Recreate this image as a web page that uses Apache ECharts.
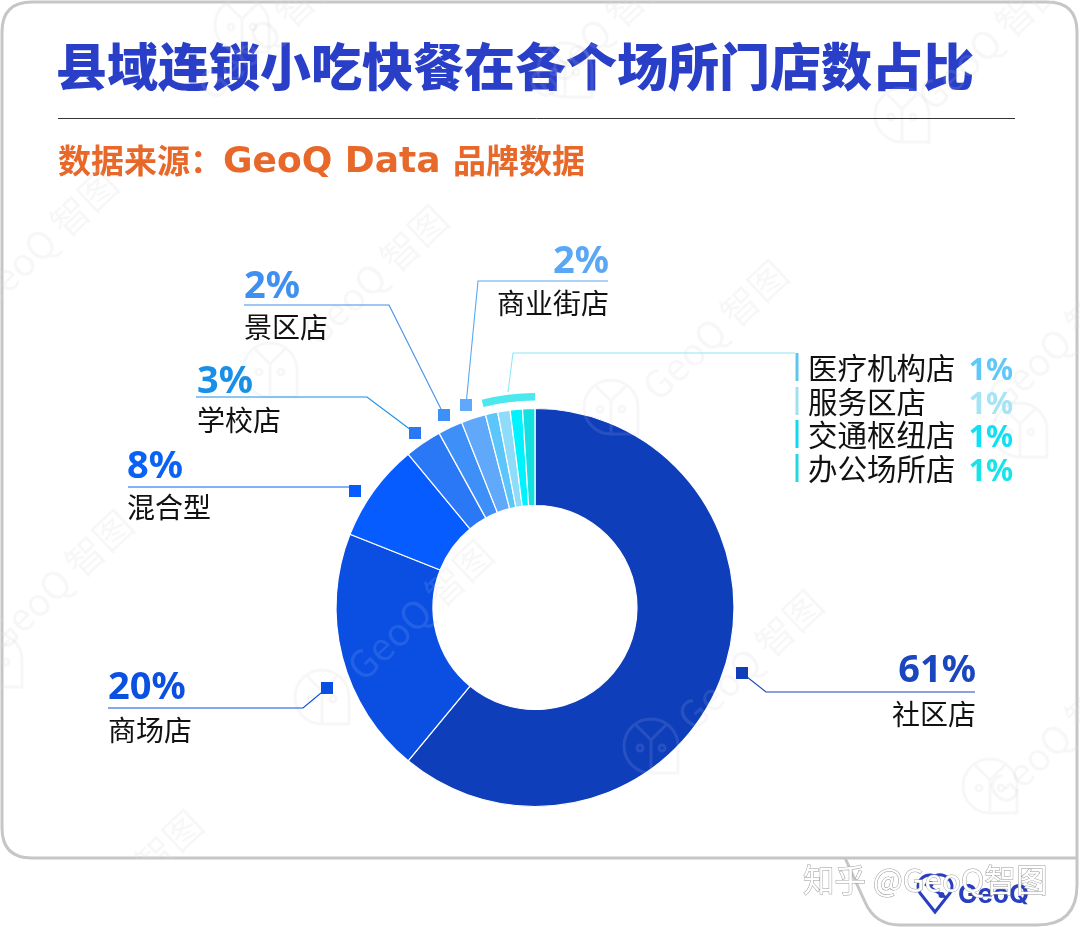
<!DOCTYPE html>
<html>
<head>
<meta charset="utf-8">
<style>
  html, body { margin: 0; padding: 0; background: #fff; }
  #main { width: 1080px; height: 927px; }
</style>
<script src="https://cdn.jsdelivr.net/npm/echarts@6/dist/echarts.min.js"></script>
</head>
<body>
<div id="main"></div>
<script>
const categories = ["社区店", "商场店", "混合型", "学校店", "景区店", "商业街店", "医疗机构店", "服务区店", "交通枢纽店", "办公场所店"];
const values = [61, 20, 8, 3, 2, 2, 1, 1, 1, 1];
const sliceColors = ["#0f3ebb", "#0a4ee2", "#075cff", "#2a78f6", "#3f8ff8", "#60a8fa", "#5cc6fb", "#8edcf9", "#00f2fe", "#14e0e0"];
const textColors = ["#1a46c0", "#0b50e0", "#0a62f5", "#1a8fe8", "#3f90f0", "#5aa8f5", "#60c8f8", "#a4e4f4", "#10e0f4", "#18e4e8"];

const FONT = '"Noto Sans CJK SC", "Noto Sans", sans-serif';
const PCT_FONT = '"Noto Sans", "Open Sans", sans-serif';
const CENTER = [535, 607.5];

// callouts with a leader line, index follows categories
const callouts = [
  { i: 0, sq: [742, 673], line: [[742, 673], [766, 692], [975, 692]], align: "right", x: 976, pctY: 671, nameY: 714 },
  { i: 1, sq: [327, 688], line: [[327, 688], [303, 708], [108, 708]], align: "left", x: 108, pctY: 688, nameY: 730 },
  { i: 2, sq: [355, 491], line: [[355, 487], [128, 487]], align: "left", x: 127, pctY: 467, nameY: 507 },
  { i: 3, sq: [415, 433], line: [[415, 433], [367, 397], [196, 397]], align: "left", x: 197, pctY: 382, nameY: 420 },
  { i: 4, sq: [444, 415], line: [[444, 415], [389, 305], [244, 305]], align: "left", x: 244, pctY: 287, nameY: 327 },
  { i: 5, sq: [466, 405], line: [[466, 405], [478, 281], [608, 281]], align: "right", x: 609, pctY: 262, nameY: 303 }
];
// the four 1% shops listed on the right
const listRows = [
  { i: 6, y: 368, bar: "#60c4f0" },
  { i: 7, y: 402, bar: "#a0e0f0" },
  { i: 8, y: 435, bar: "#10d8f0" },
  { i: 9, y: 469, bar: "#20d8e0" }
];
const markPos = [[45, 240], [375, 275], [715, 330], [60, 580], [420, 610], [750, 660], [1060, 735], [270, 30], [600, 30], [130, 880], [1060, 340], [990, 40]];
const owlPos = [[270, 370], [611, 407], [902, 115], [322, 697], [651, 746], [990, 786], [242, 25], [565, 70], [1020, 430], [-5, 660]];

const OWL = "M-27,0 A27,27 0 1 1 27,0 L27,27 L0,27 A27,27 0 0 1 -27,0 Z M-15,-21 L0,-6 L15,-21 M0,-6 L0,27 M-14,2 a3,3 0 1 0 6,0 a3,3 0 1 0 -6,0 M8,2 a3,3 0 1 0 6,0 a3,3 0 1 0 -6,0";
const FRAME = "M32,2 L1047,2 Q1077,2 1077,32 L1077,885 Q1077,925 1037,925 L900,925 Q875,925 865,902 L845,858 L32,858 Q2,858 2,828 L2,32 Q2,2 32,2 Z M845,858 L1077,858";
const PIN = "M935,912 L920,893 A10,10 0 0 1 918,886 A12,12 0 0 1 935,876 A12,12 0 0 1 952,886 A10,10 0 0 1 950,893 Z M925,884 L945,897 M929,884 a1.5,1.5 0 1 0 3,0 a1.5,1.5 0 1 0 -3,0 M940,895 a1.5,1.5 0 1 0 3,0 a1.5,1.5 0 1 0 -3,0";
echarts.graphic.registerShape("owl", echarts.graphic.extendPath(OWL, {}));
echarts.graphic.registerShape("frame", echarts.graphic.extendPath(FRAME, {}));
echarts.graphic.registerShape("pin", echarts.graphic.extendPath(PIN, {}));

function textEl(text, x, y, size, color, align, weight, family) {
  return {
    type: "text", x: x, y: y, z: 20,
    style: {
      text: text, fill: color, align: align || "left", verticalAlign: "middle",
      font: (weight || "normal") + " " + size + "px " + (family || FONT)
    }
  };
}

function polyEl(points, color, width, z) {
  return {
    type: "polyline", z: z || 15, silent: true,
    shape: { points: points },
    style: { stroke: color, lineWidth: width || 1.1, fill: null }
  };
}

const graphics = [];

// watermark: grey under the pie, white over it
[["rgba(0,0,0,0.035)", 0], ["rgba(255,255,255,0.10)", 10]].forEach(function (w) {
  markPos.forEach(function (p) {
    graphics.push({
      type: "text", x: p[0], y: p[1], rotation: Math.PI * 0.24, z: w[1], silent: true,
      style: { text: "GeoQ 智图", fill: w[0], align: "center", verticalAlign: "middle", font: "38px " + FONT }
    });
  });
  owlPos.forEach(function (p) {
    graphics.push({
      type: "owl", x: p[0], y: p[1], z: w[1], silent: true,
      style: { stroke: w[0], lineWidth: 3, fill: null }
    });
  });
});

// the watermark stops at the card edge
graphics.push({
  type: "rect", z: 1, silent: true,
  shape: { x: 0, y: 859, width: 1080, height: 68 },
  style: { fill: "#fff" }
});

// card outline with the tab in the lower right corner
graphics.push({
  type: "frame", z: 5, silent: true,
  style: { stroke: "#c6c6c6", lineWidth: 3, fill: null }
});

// title rule
graphics.push(polyEl([[58, 118.5], [1015, 118.5]], "#33333a", 1));

callouts.forEach(function (c) {
  const color = textColors[c.i];
  graphics.push(polyEl(c.line, color));
  graphics.push({
    type: "rect", z: 16, silent: true,
    shape: { x: c.sq[0] - 6, y: c.sq[1] - 6, width: 12, height: 12 },
    style: { fill: sliceColors[c.i] }
  });
  graphics.push(textEl(values[c.i] + "%", c.x, c.pctY, 38, color, c.align, "bold", PCT_FONT));
  graphics.push(textEl(categories[c.i], c.x, c.nameY, 28, "#111", c.align));
});

// leader from the small bracket over the 1% slices to the list
graphics.push(polyEl([[508, 392], [513, 353], [795, 353]], "#8ee8f5", 1.1));
listRows.forEach(function (r) {
  graphics.push(polyEl([[797, r.y - 15], [797, r.y + 13]], r.bar, 3));
  graphics.push(textEl(categories[r.i], 808, r.y, 29.5, "#111"));
  graphics.push(textEl(values[r.i] + "%", 1013, r.y + 3, 30, textColors[r.i], "right", "bold", PCT_FONT));
});

// GeoQ logo and the site watermark over it
graphics.push({
  type: "pin", z: 18, silent: true,
  style: { stroke: "#2a3fc0", lineWidth: 3, fill: null }
});
graphics.push(textEl("GeoQ", 958, 895, 26, "#2a3fc0", "left", "bold", "Inter, " + PCT_FONT));
graphics.push({
  type: "text", x: 803, y: 880, z: 25, silent: true,
  style: {
    text: "知乎 @GeoQ智图", fill: "#fff", stroke: "#9a9a9a", lineWidth: 1, align: "left", verticalAlign: "middle",
    font: "31.5px " + FONT
  }
});

const shown = values.slice(0, 6).reduce(function (a, b) { return a + b; }, 0);
const smallShops = values.slice(6).reduce(function (a, b) { return a + b; }, 0);

const chart = echarts.init(document.getElementById("main"), null, { renderer: "canvas" });
chart.setOption({
  animation: false,
  backgroundColor: "#fff",
  title: [
    {
      text: "县域连锁小吃快餐在各个场所门店数占比",
      left: 56, top: 37, padding: 0,
      textStyle: { color: "#2a3fc8", fontSize: 51, fontWeight: 900, fontFamily: FONT, lineHeight: 60 }
    },
    {
      text: "{a|数据来源：}{b|GeoQ Data }{a|品牌数据}",
      left: 58, top: 140, padding: 0,
      textStyle: {
        rich: {
          a: { color: "#e8682a", fontSize: 33, fontWeight: "bold", fontFamily: FONT, verticalAlign: "middle", lineHeight: 40 },
          b: { color: "#e8682a", fontSize: 36, fontWeight: "bold", fontFamily: '"DejaVu Sans", sans-serif', verticalAlign: "middle", lineHeight: 40, padding: [6, 0, 0, 0] }
        }
      }
    }
  ],
  graphic: { elements: graphics },
  series: [
    {
      type: "pie",
      z: 2,
      silent: true,
      center: CENTER,
      radius: [102, 199],
      startAngle: 90,
      clockwise: true,
      label: { show: false },
      labelLine: { show: false },
      itemStyle: { borderColor: "#fff", borderWidth: 1.2 },
      data: categories.map(function (name, i) {
        return { name: name, value: values[i], itemStyle: { color: sliceColors[i] } };
      })
    },
    {
      // thin arc over the last four slices
      type: "pie",
      z: 3,
      silent: true,
      center: CENTER,
      radius: [207, 214.5],
      startAngle: 90,
      label: { show: false },
      labelLine: { show: false },
      data: [
        { name: "其他", value: shown, itemStyle: { color: "transparent" } },
        { name: "1%门店", value: smallShops, itemStyle: { color: "#4de8ee" } }
      ]
    }
  ]
});
</script>
</body>
</html>
